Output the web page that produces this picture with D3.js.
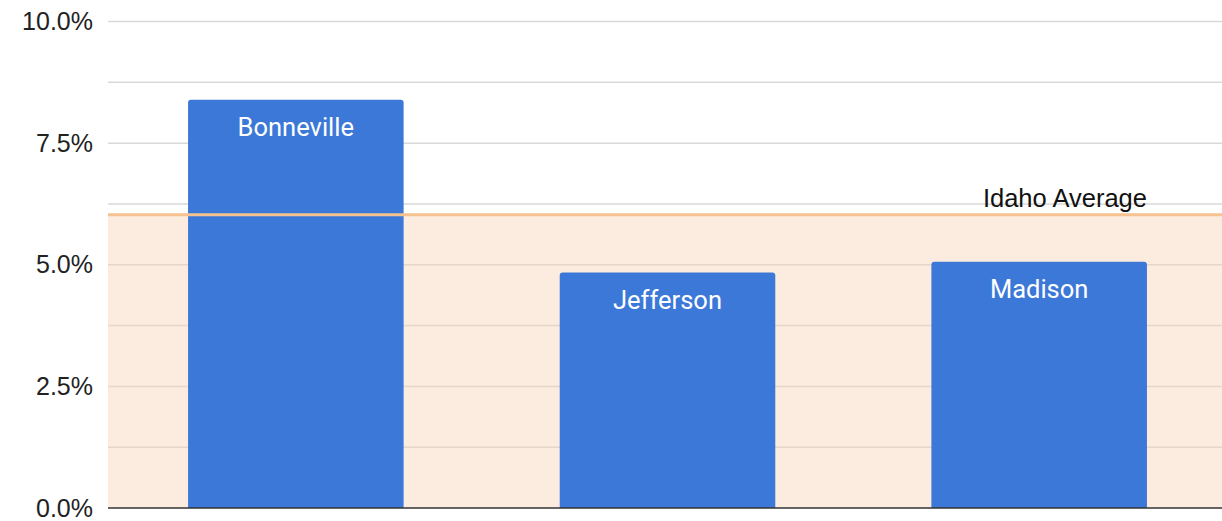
<!DOCTYPE html>
<meta charset="utf-8">
<style>
  body { margin: 0; background: #fff; }
  .tick text { font-family: "Liberation Sans", Arial, sans-serif; font-size: 25px; fill: #222; }
  .bar-label { font-family: Roboto, sans-serif; font-size: 25.5px; fill: #fff; }
  .avg-label { font-family: "Liberation Sans", Arial, sans-serif; font-size: 25.5px; fill: #111; }
</style>
<body>
<svg width="1222" height="521"></svg>
<script src="https://d3js.org/d3.v7.min.js"></script>
<script>
  // data
  var counties = ["Bonneville", "Jefferson", "Madison"];
  var rates = [8.39, 4.84, 5.06];
  var idahoAverage = 6.03;
  var yTicks = [0, 2.5, 5, 7.5, 10];
  var minorTicks = [1.25, 3.75, 6.25, 8.75];

  var svg = d3.select("svg");
  var margin = {top: 21.5, right: 0, bottom: 13, left: 108};
  var width = 1222 - margin.left - margin.right,
      height = 521 - margin.top - margin.bottom;

  var g = svg.append("g").attr("transform", "translate(" + margin.left + "," + margin.top + ")");

  var x = d3.scaleBand().domain(counties).range([2, width + 3]).paddingInner(0.42).paddingOuter(0.21);
  var y = d3.scaleLinear().domain([0, 10]).range([height, 0]);

  // shaded area below the average
  g.append("rect")
    .attr("x", 0).attr("width", width)
    .attr("y", y(idahoAverage)).attr("height", height - y(idahoAverage))
    .attr("fill", "#fcecdf");

  // gridlines (darker tone inside the shaded part)
  function gridColor(v) { return v < idahoAverage ? "#e5d6ca" : "#d9d9d9"; }
  g.selectAll(".grid")
    .data(yTicks.filter(function (d) { return d > 0; }).concat(minorTicks))
    .enter().append("line")
    .attr("x1", 0).attr("x2", width)
    .attr("y1", function (d) { return y(d); })
    .attr("y2", function (d) { return y(d); })
    .attr("stroke", gridColor)
    .attr("stroke-width", 1.5);

  // axis labels
  var yAxis = d3.axisLeft(y).tickValues(yTicks).tickSize(0).tickPadding(15)
    .tickFormat(function (d) { return d3.format(".1f")(d) + "%"; });
  g.append("g").call(yAxis).call(function (a) { a.select(".domain").remove(); });

  // bars with rounded tops
  function barPath(d, i) {
    var x0 = x(counties[i]), w = x.bandwidth(), y0 = y(d), y1 = y(0), r = 3;
    return "M" + x0 + "," + y1 + "V" + (y0 + r) + "Q" + x0 + "," + y0 + " " + (x0 + r) + "," + y0 +
      "H" + (x0 + w - r) + "Q" + (x0 + w) + "," + y0 + " " + (x0 + w) + "," + (y0 + r) + "V" + y1 + "Z";
  }
  g.selectAll(".bar")
    .data(rates)
    .enter().append("path")
    .attr("class", "bar")
    .attr("d", barPath)
    .attr("fill", "#3c78d8");

  // average line
  g.append("line")
    .attr("x1", 0).attr("x2", width)
    .attr("y1", y(idahoAverage)).attr("y2", y(idahoAverage))
    .attr("stroke", "#f6c28f").attr("stroke-width", 3);

  g.append("text")
    .attr("class", "avg-label")
    .attr("x", x("Madison") + x.bandwidth())
    .attr("y", y(idahoAverage) - 8)
    .attr("text-anchor", "end")
    .text("Idaho Average");

  // labels inside bars
  g.selectAll(".bar-label")
    .data(rates)
    .enter().append("text")
    .attr("class", "bar-label")
    .attr("x", function (d, i) { return x(counties[i]) + x.bandwidth() / 2; })
    .attr("y", function (d) { return y(d) + 36; })
    .attr("text-anchor", "middle")
    .text(function (d, i) { return counties[i]; });

  // baseline
  g.append("line")
    .attr("x1", 0).attr("x2", width)
    .attr("y1", y(0)).attr("y2", y(0))
    .attr("stroke", "#333").attr("stroke-width", 1.5);
</script>
</body>
